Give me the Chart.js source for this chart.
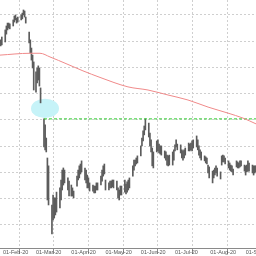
<!DOCTYPE html>
<html lang="en">
<head>
<meta charset="UTF-8">
<title>Price chart</title>
<script src="https://cdn.jsdelivr.net/npm/chart.js@4.4.0/dist/chart.umd.min.js"></script>
<style>
  html, body { margin: 0; padding: 0; background: #fff; }
  #wrap { width: 256px; height: 256px; }
</style>
</head>
<body>
<div id="wrap"><canvas id="priceChart"></canvas></div>
<script>
// trading days, counted in days from 01-Feb-2020
var tradeDays = [-2, -1, 2, 3, 4, 5, 6, 9, 10, 11, 12, 13, 16, 17, 18, 19, 20, 23, 24, 25, 26, 27,
  29, 30, 31, 32, 33, 36, 37, 38, 39, 40, 43, 44, 45, 46, 47, 50, 51, 52, 53, 54, 57, 58,
  60, 61, 62, 65, 66, 67, 68, 69, 72, 73, 74, 75, 76, 79, 80, 81, 82, 83, 86, 87, 88, 89,
  90, 93, 94, 95, 96, 97, 100, 101, 102, 103, 104, 107, 108, 109, 110, 111, 114, 115, 116, 117, 118,
  121, 122, 123, 124, 125, 128, 129, 130, 131, 132, 135, 136, 137, 138, 139, 142, 143, 144, 145, 146, 149, 150,
  151, 152, 153, 156, 157, 158, 159, 160, 163, 164, 165, 166, 167, 170, 171, 172, 173, 174, 177, 178, 179, 180, 181,
  184, 185, 186, 187, 188, 191, 192, 193, 194, 195, 198, 199, 200, 201, 202, 205, 206, 207, 208, 209, 212,
  213, 214, 215, 216, 219, 220, 221, 222];

var highs = [170.5, 171.6, 174.3, 175.8, 176.9, 176.9, 176.6, 178.1, 179.6, 180.0, 178.8, 179.2, 180.0, 180.7, 181.9, 181.5, 179.2, 173.5, 170.5, 167.4, 164.7, 162.1,
  158.3, 159.8, 160.6, 159.8, 152.2, 140.4, 138.1, 133.1, 125.5, 122.5, 107.6, 111.4, 110.3, 110.3, 112.5, 114.1, 117.1, 120.9, 121.7, 120.9, 117.9, 116.7,
  115.2, 114.1, 112.9, 118.6, 120.9, 122.5, 123.2, 124.4, 121.7, 120.9, 119.0, 117.9, 116.0, 115.2, 114.8, 114.8, 116.0, 116.0, 118.6, 120.9, 122.5, 123.2,
  117.1, 116.0, 116.7, 116.7, 117.1, 117.1, 116.7, 114.1, 113.3, 114.8, 114.8, 117.1, 115.6, 116.4, 117.1, 117.9, 122.5, 124.7, 124.7, 125.5, 126.3,
  130.1, 133.1, 135.8, 137.7, 140.4, 138.8, 135.0, 132.4, 129.3, 127.8, 132.0, 132.4, 130.8, 130.1, 130.1, 128.2, 127.8, 126.6, 126.3, 126.6, 127.8, 128.6,
  130.5, 132.4, 130.8, 130.5, 128.6, 128.2, 128.6, 129.3, 131.2, 130.8, 131.2, 132.0, 132.4, 133.9, 132.4, 130.1, 128.6, 127.8, 126.3, 125.9, 125.5, 122.8, 122.1,
  120.5, 120.9, 121.7, 122.5, 121.7, 120.2, 126.3, 126.6, 126.3, 125.5, 124.4, 123.6, 122.8, 122.5, 121.3, 124.4, 124.0, 123.6, 124.4, 124.4, 122.8,
  122.5, 122.8, 124.4, 123.6, 122.8, 122.5, 122.5, 122.5];

var lows = [168.2, 168.6, 169.7, 172.7, 174.3, 175.0, 174.7, 175.8, 177.3, 178.1, 176.9, 177.3, 178.1, 178.5, 180.0, 179.2, 176.9, 169.3, 165.5, 162.8, 159.8, 151.4,
  150.6, 154.1, 155.2, 152.9, 146.5, 129.7, 128.6, 127.8, 109.5, 107.6, 96.6, 101.9, 102.6, 103.8, 104.9, 106.5, 109.5, 113.3, 115.2, 116.0, 113.3, 111.0,
  111.0, 111.0, 110.3, 114.8, 117.1, 117.9, 119.4, 120.2, 117.1, 116.0, 114.1, 114.1, 112.9, 112.9, 112.2, 112.2, 113.3, 113.3, 115.2, 116.7, 118.6, 119.4,
  113.3, 113.3, 114.1, 114.1, 114.5, 114.1, 113.3, 110.3, 109.5, 111.4, 111.4, 112.5, 111.8, 112.5, 113.3, 114.1, 118.6, 120.9, 122.5, 123.2, 123.6,
  126.3, 130.1, 132.0, 134.3, 136.2, 133.5, 130.1, 127.8, 122.5, 121.7, 127.8, 128.2, 127.4, 127.0, 126.6, 125.5, 124.7, 122.8, 122.5, 122.8, 122.8, 124.7,
  128.2, 129.7, 128.6, 127.4, 125.5, 124.7, 125.5, 126.6, 128.2, 128.2, 128.6, 128.2, 129.3, 129.7, 128.6, 126.6, 125.5, 124.7, 124.4, 123.6, 123.2, 119.8, 117.9,
  116.0, 117.9, 119.0, 119.8, 118.6, 117.5, 122.8, 124.0, 124.0, 123.2, 121.7, 120.9, 120.5, 120.2, 119.0, 122.1, 121.7, 121.7, 122.1, 122.5, 120.5,
  119.0, 120.2, 120.5, 120.5, 119.8, 119.0, 119.8, 120.2];

// moving average
var maDays = [-2.6, 23.7, 32.5, 41.3, 56.2, 70.2, 85.2, 109.7, 127.3, 144.9, 162.4, 180, 197.5, 210.7, 222.1];
var maValues = [164.7, 165.4, 165.4, 164.0, 161.3, 158.7, 156.2, 152.6, 151.4, 149.5, 147.6, 144.9, 142.6, 140.7, 138.5];

var monthStarts = [0, 29, 60, 90, 121, 151, 182, 213];
var monthLabels = ['01-Feb-20', '01-Mar-20', '01-Apr-20', '01-May-20', '01-Jun-20', '01-Jul-20', '01-Aug-20', '01-Sep-20'];
var priceTicks = [100, 110, 120, 130, 140, 150, 160, 170, 180];

// gap marker (09-Mar-20)
var gapStartDay = 36;
var gapLevel = 140.4;
var markDay = 36.9, markPrice = 144.4, markDayRadius = 12.3, markPriceRadius = 3.7;

var firstDay = -2.6, lastDay = 222.1;

var gapMark = {
  id: 'gapMark',
  beforeDatasetsDraw: function (chart) {
    var xs = chart.scales.x, ys = chart.scales.y, ctx = chart.ctx;
    var cx = xs.getPixelForValue(markDay);
    var cy = ys.getPixelForValue(markPrice);
    var rx = Math.abs(xs.getPixelForValue(markDay + markDayRadius) - cx);
    var ry = Math.abs(ys.getPixelForValue(markPrice + markPriceRadius) - cy);
    ctx.save();
    ctx.fillStyle = '#c6f3f8';
    ctx.beginPath();
    ctx.ellipse(cx, cy, rx, ry, 0, 0, Math.PI * 2);
    ctx.fill();
    ctx.restore();
  }
};

var barData = tradeDays.map(function (d, i) { return { x: d, y: [lows[i], highs[i]] }; });
var maData = maDays.map(function (d, i) { return { x: d, y: maValues[i] }; });

new Chart(document.getElementById('priceChart'), {
  type: 'bar',
  data: {
    datasets: [
      {
        type: 'line',
        data: [{ x: gapStartDay, y: gapLevel }, { x: lastDay, y: gapLevel }],
        borderColor: '#2ecc2e',
        borderWidth: 1,
        borderDash: [3, 2],
        pointRadius: 0,
        order: 1
      },
      {
        type: 'line',
        data: maData,
        borderColor: '#f08a8a',
        borderWidth: 1,
        pointRadius: 0,
        cubicInterpolationMode: 'monotone',
        order: 0
      },
      {
        data: barData,
        backgroundColor: '#5c5c5c',
        borderWidth: 0,
        barThickness: 1,
        order: 2
      }
    ]
  },
  options: {
    responsive: true,
    maintainAspectRatio: false,
    animation: false,
    layout: { padding: 0 },
    plugins: { legend: { display: false }, tooltip: { enabled: false } },
    scales: {
      x: {
        type: 'linear',
        min: firstDay,
        max: lastDay,
        offset: false,
        afterBuildTicks: function (axis) {
          axis.ticks = monthStarts.map(function (v) { return { value: v }; });
        },
        afterFit: function (s) { s.height = 8; s.paddingLeft = 0; s.paddingRight = 0; },
        ticks: {
          autoSkip: false,
          maxRotation: 0,
          minRotation: 0,
          align: 'start',
          padding: -5,
          color: '#555',
          font: { family: 'Liberation Sans Narrow, Liberation Sans, sans-serif', size: 5.5 },
          callback: function (v, i) { return monthLabels[i]; }
        },
        grid: {
          color: '#cfcfcf',
          drawTicks: true,
          tickLength: 6,
          tickColor: '#8a8a8a',
          tickBorderDash: []
        },
        border: { display: true, color: '#8a8a8a', dash: [2, 2] }
      },
      y: {
        min: 91.2,
        max: 185.7,
        afterBuildTicks: function (axis) {
          axis.ticks = priceTicks.map(function (v) { return { value: v }; });
        },
        afterFit: function (s) { s.width = 0; },
        ticks: { display: false },
        grid: { color: '#cfcfcf', drawTicks: false },
        border: { display: false, dash: [2, 2] }
      }
    }
  },
  plugins: [gapMark]
});
</script>
</body>
</html>
